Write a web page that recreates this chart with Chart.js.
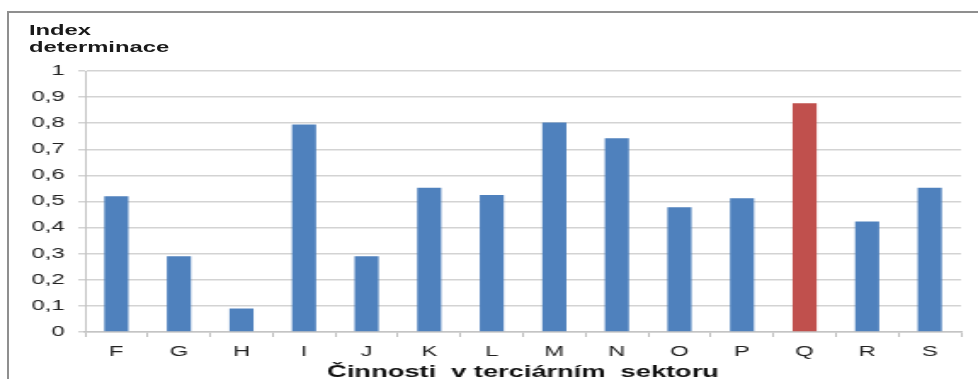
<!DOCTYPE html>
<html>
<head>
<meta charset="utf-8">
<script src="https://cdn.jsdelivr.net/npm/chart.js"></script>
<style>
    html, body { margin: 0; padding: 0; background: #fff; }
    #wrap { position: relative; width: 978px; height: 379px; overflow: hidden; }
    #frame { position: absolute; left: 7px; top: 11px; width: 1000px; height: 400px;
             border-top: 2px solid #8f8f8f; border-left: 2px solid #8f8f8f; }
    /* the original picture is stretched sideways, so the chart is drawn narrow and scaled */
    #inner { position: absolute; left: 0; top: 0; width: 575px; height: 379px;
             transform: scaleX(1.7009); transform-origin: 0 0; }
    #ytitle { position: absolute; left: 17px; top: 22px; font: bold 14px "Liberation Sans", Arial, sans-serif;
              line-height: 17px; color: #1a1a1a; white-space: nowrap; }
    canvas { position: absolute; left: 0; top: 0; }
</style>
</head>
<body>
<div id="wrap">
    <div id="frame"></div>
    <div id="inner">
        <canvas id="c" width="575" height="379"></canvas>
        <div id="ytitle">Index<br>determinace</div>
    </div>
</div>
<script>
    const categories = ["F", "G", "H", "I", "J", "K", "L", "M", "N", "O", "P", "Q", "R", "S"];
    const values = [0.52, 0.29, 0.09, 0.795, 0.29, 0.553, 0.525, 0.803, 0.742, 0.478, 0.512, 0.876, 0.423, 0.553];
    const highlighted = ["Q"];
    const yTicks = [0, 0.1, 0.2, 0.3, 0.4, 0.5, 0.6, 0.7, 0.8, 0.9, 1];

    const blue = "#4f81bd", red = "#c0504d";
    const font = "'Liberation Sans', Arial, sans-serif";

    function fmt(v) { return String(Math.round(v * 10) / 10).replace(".", ","); }

    new Chart(document.getElementById("c"), {
        type: "bar",
        data: {
            labels: categories,
            datasets: [{
                data: values,
                backgroundColor: categories.map(c => highlighted.includes(c) ? red : blue),
                barPercentage: 0.385,
                categoryPercentage: 1
            }]
        },
        options: {
            responsive: false,
            animation: false,
            layout: { padding: { top: 71, right: 10, left: 0, bottom: 0 } },
            plugins: { legend: { display: false }, tooltip: { enabled: false } },
            scales: {
                x: {
                    offset: true,
                    grid: { drawOnChartArea: false, color: "#bdbdbd", tickLength: 5, offset: true },
                    border: { color: "#c4c4c4", width: 1.5 },
                    ticks: { color: "#222", font: { family: font, size: 14 }, padding: 7 },
                    title: {
                        display: true, text: "Činnosti  v terciárním  sektoru", color: "#111",
                        font: { family: font, size: 16, weight: "bold" }, padding: { top: 0, bottom: -3 }
                    },
                    afterFit: s => { s.height = 47; }
                },
                y: {
                    min: 0, max: 1,
                    afterBuildTicks: s => { s.ticks = yTicks.map(v => ({ value: v })); },
                    grid: { color: "#d3d3d3", lineWidth: 1.5, tickLength: 4 },
                    border: { color: "#c4c4c4", width: 1 },
                    ticks: { color: "#222", font: { family: font, size: 14 }, padding: 8, callback: v => fmt(v) },
                    afterFit: s => { s.width = 50; }
                }
            }
        }
    });
</script>
</body>
</html>
